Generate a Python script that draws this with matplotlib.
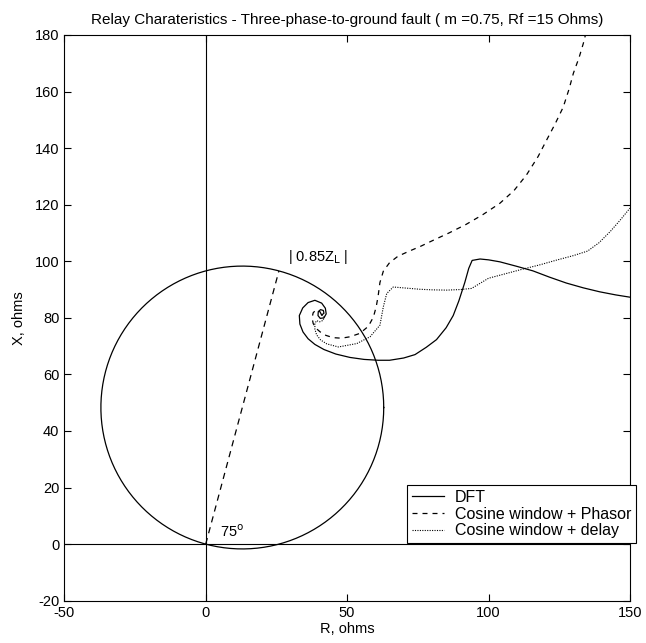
import numpy as np
import matplotlib
matplotlib.use("Agg")
import matplotlib.pyplot as plt

plt.rcParams['font.family'] = ['Liberation Sans', 'DejaVu Sans']
plt.rcParams['axes.unicode_minus'] = False

# ---- data ----
title = "Relay Charateristics - Three-phase-to-ground fault ( m =0.75, Rf =15 Ohms)"
xlabel = "R, ohms"
ylabel = "X, ohms"

mho_reach = 100.0          # ohms, diameter of mho circle
line_angle_deg = 75.0      # line impedance angle

dft_r = [41.0, 41.8, 41.6, 40.6, 39.8, 39.7, 40.5, 41.8, 42.6, 42.3, 41.0, 38.6, 36.2,
         34.3, 33.1, 33.3, 34.4, 36.2, 38.6, 41.8, 46.0, 51.0, 56.0, 61.0, 65.0, 70.0,
         74.0, 78.0, 81.6, 85.0, 87.5, 89.5, 91.6, 93.0, 94.2, 97.0, 100.0, 104.0, 110.0,
         115.7, 121.5, 127.5, 133.5, 139.3, 145.0, 150.0]
dft_x = [81.0, 81.6, 82.6, 82.9, 82.2, 80.8, 79.8, 80.0, 81.4, 83.4, 85.2, 86.2, 85.4,
         83.5, 80.8, 77.8, 75.0, 72.6, 70.6, 68.8, 67.2, 66.0, 65.3, 65.0, 65.0, 65.8,
         67.0, 69.6, 72.3, 76.5, 80.8, 86.0, 92.5, 97.5, 100.3, 100.8, 100.5, 99.8, 98.2,
         96.6, 94.4, 92.3, 90.6, 89.2, 88.1, 87.3]

phasor_r = [41.0, 40.3, 39.0, 38.0, 37.6, 38.0, 39.0, 40.5, 42.5, 45.0, 48.0, 51.0, 54.5,
            57.5, 59.3, 60.3, 61.0, 61.6, 62.8, 65.0, 68.0, 72.0, 76.0, 80.4, 86.0, 92.0,
            98.0, 104.0, 109.0, 113.4, 117.5, 120.5, 123.5, 126.4, 128.5, 130.0, 132.0,
            133.5, 134.5]
phasor_x = [81.0, 82.3, 82.8, 81.8, 80.0, 78.0, 76.3, 75.0, 73.8, 73.0, 72.8, 73.3, 74.5,
            77.0, 80.3, 84.0, 88.0, 92.5, 96.5, 99.5, 101.8, 103.6, 105.3, 107.4, 110.0,
            113.0, 116.5, 120.5, 125.0, 130.5, 137.0, 142.8, 148.5, 154.5, 161.0, 166.5,
            172.0, 177.0, 181.0]

delay_r = [41.0, 41.9, 41.5, 40.3, 39.2, 38.6, 38.6, 39.2, 40.6, 42.8, 46.9, 53.4, 58.1,
           61.6, 62.8, 64.0, 66.3, 71.0, 75.7, 80.0, 85.2, 90.0, 94.0, 97.0, 100.0, 106.0,
           112.0, 118.0, 124.0, 130.0, 135.0, 139.0, 143.0, 146.5, 150.0]
delay_x = [81.0, 80.3, 79.1, 78.6, 79.0, 78.0, 76.0, 74.0, 72.2, 70.8, 69.7, 70.9, 73.3,
           77.4, 83.9, 88.6, 90.9, 90.5, 90.1, 89.9, 89.8, 90.0, 90.4, 92.2, 94.0, 95.6,
           97.2, 98.7, 100.4, 102.0, 103.6, 106.5, 110.5, 114.5, 118.8]

legend_labels = ["DFT", "Cosine window + Phasor", "Cosine window + delay"]
xticks = [-50, 0, 50, 100, 150]
yticks = [-20, 0, 20, 40, 60, 80, 100, 120, 140, 160, 180]

# ---- figure ----
fig = plt.figure(figsize=(6.46, 6.43), dpi=100)
ax = fig.add_axes([0.0995, 0.0658, 0.8757, 0.8798])

# mho circle
phi = np.deg2rad(line_angle_deg)
cx, cy = mho_reach / 2 * np.cos(phi), mho_reach / 2 * np.sin(phi)
t = np.linspace(0, 2 * np.pi, 400)
ax.plot(cx + mho_reach / 2 * np.cos(t), cy + mho_reach / 2 * np.sin(t), color='black', lw=0.9)

# reach line
ax.plot([0, mho_reach * np.cos(phi)], [0, mho_reach * np.sin(phi)], color='black', lw=0.9,
        linestyle=(0, (5, 4)))

# axes cross lines
ax.axvline(0, color='black', lw=0.8)
ax.axhline(0, color='black', lw=0.8)

l1, = ax.plot(dft_r, dft_x, color='black', lw=0.9, linestyle='-')
l2, = ax.plot(phasor_r, phasor_x, color='black', lw=0.9, linestyle=(0, (4, 4)))
l3, = ax.plot(delay_r, delay_x, color='black', lw=0.8, linestyle=(0, (1, 1.2)))

ax.text(29, 101.5, "| 0.85Z$_{\\mathrm{L}}$ |", fontsize=10.5, va='center', ha='left')
ax.text(5, 4.5, "75$^{\\mathrm{o}}$", fontsize=10.5, va='center', ha='left')

ax.set_xlim(-50, 150)
ax.set_ylim(-20, 180)
ax.set_xticks(xticks)
ax.set_yticks(yticks)
ax.tick_params(direction='in', top=True, right=True, length=5, width=0.8, labelsize=10.5)
for s in ax.spines.values():
    s.set_linewidth(0.8)

ax.set_title(title, fontsize=11, pad=8)
ax.set_xlabel(xlabel, fontsize=10.5, labelpad=2)
ax.set_ylabel(ylabel, fontsize=10.5, labelpad=6)

leg = ax.legend([l1, l2, l3], legend_labels, loc='lower right',
                bbox_to_anchor=(1.011, 0.102), borderaxespad=0, fontsize=11.5,
                fancybox=False, framealpha=1, edgecolor='black', handlelength=2.0,
                handletextpad=0.7, labelspacing=0.1, borderpad=0.3)
leg.get_frame().set_linewidth(0.8)

fig.savefig("out.png", dpi=100)
